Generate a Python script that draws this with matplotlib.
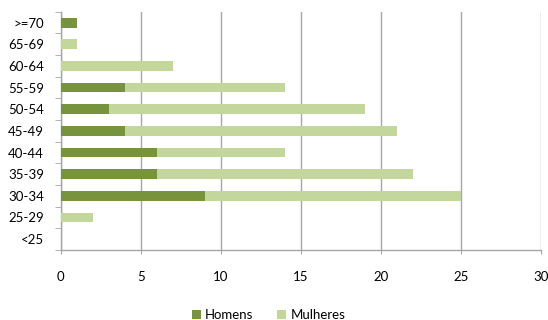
import numpy as np
import matplotlib.pyplot as plt

plt.rcParams['font.family'] = ['Lato', 'DejaVu Sans']

# age groups, bottom to top
faixas = ["<25", "25-29", "30-34", "35-39", "40-44", "45-49",
          "50-54", "55-59", "60-64", "65-69", ">=70"]
homens = [0, 0, 9, 6, 6, 4, 3, 4, 0, 0, 1]
mulheres = [0, 2, 16, 16, 8, 17, 16, 10, 7, 1, 0]

cor_h = "#77933C"
cor_m = "#C3D69B"
cinza = "#A6A6A6"

fig = plt.figure(figsize=(5.48, 3.2), dpi=100)
ax = fig.add_axes([0.111, 0.219, 0.876, 0.744])

y = np.arange(len(faixas))
ax.barh(y, homens, height=0.45, color=cor_h, label="Homens", zorder=3)
ax.barh(y, mulheres, left=homens, height=0.45, color=cor_m, label="Mulheres", zorder=3)

ax.set_xlim(0, 30)
ax.set_ylim(-0.5, len(faixas) - 0.5)
ax.set_xticks(range(0, 31, 5))
ax.set_yticks(y)
ax.set_yticklabels(faixas)
ax.set_yticks(np.arange(-0.5, len(faixas), 1), minor=True)

ax.grid(axis="x", color=cinza, linewidth=1, zorder=0)
for s in ["top", "right"]:
    ax.spines[s].set_visible(False)
for s in ["left", "bottom"]:
    ax.spines[s].set_color(cinza)
    ax.spines[s].set_linewidth(1)

ax.tick_params(axis="y", which="major", length=0, pad=12, labelsize=9.5)
ax.tick_params(axis="y", which="minor", length=4, color=cinza)
ax.tick_params(axis="x", length=3, color=cinza, pad=12, labelsize=9.5)

fig.legend(loc="lower center", bbox_to_anchor=(0.49, -0.04), ncol=2, frameon=False,
           fontsize=9.5, handlelength=0.7, handleheight=0.7, handletextpad=0.3,
           columnspacing=1.8)

fig.savefig("out.png", dpi=100)
